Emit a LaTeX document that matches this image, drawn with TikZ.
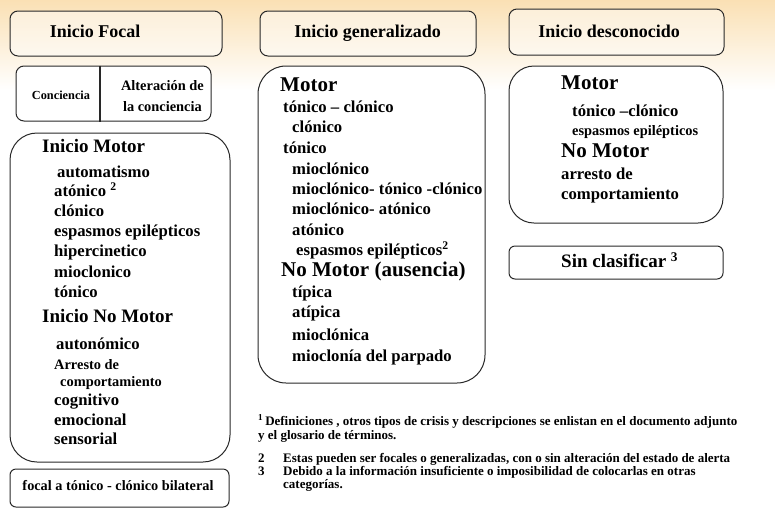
\documentclass[tikz,border=0pt]{standalone}
\usepackage{fontspec}
\setmainfont{Liberation Serif}
\definecolor{bgtop}{RGB}{250,224,180}
\definecolor{edge}{RGB}{40,40,40}
\tikzset{
  hdr/.style={draw=edge, line width=1pt, rounded corners=8pt, fill=white, fill opacity=0.45, text opacity=1, inner sep=0pt},
  bigbox/.style={draw=edge, line width=1pt, fill=white, inner sep=0pt},
  smallbox/.style={draw=edge, line width=1pt, rounded corners=6pt, fill=white, inner sep=0pt},
  txt/.style={anchor=west, inner sep=0pt, text height=0.66em, text depth=0pt, font=\bfseries\fontsize{#1}{#1}\selectfont},
  txt/.default=16.7,
  ttl/.style={inner sep=0pt, text height=0.66em, text depth=0pt, font=\bfseries\fontsize{18}{18}\selectfont},
}
\begin{document}
\begin{tikzpicture}[x=1pt,y=-1pt]
\useasboundingbox (0,0) rectangle (775,523);
\fill[white] (0,0) rectangle (775,523);
\shade[top color=bgtop, bottom color=white] (0,0) rectangle (775,90);

% headers
\node[hdr, minimum width=212pt, minimum height=45pt] (hfocal) at (116,33.5) {};
\node[ttl] (tfocal) at (95,34) {Inicio Focal};
\node[hdr, minimum width=216pt, minimum height=45pt] (hgen) at (368,33.5) {};
\node[ttl] (tgen) at (367.5,34) {Inicio generalizado};
\node[hdr, minimum width=215pt, minimum height=46pt] (hunk) at (616.5,32) {};
\node[ttl] (tunk) at (609,34) {Inicio desconocido};

% conciencia box
\node[smallbox, rounded corners=8pt, minimum width=195pt, minimum height=55pt] (cbox) at (113.5,93.5) {};
\draw[edge, line width=2pt] (cbox.north west -| 100,0) coordinate (dtop) -- (cbox.south west -| 100,0) coordinate (dbot);
\node[txt=12.3, anchor=center] (tcon) at (61,96) {Conciencia};
\node[txt=14.4, anchor=east] (talt1) at (204,87) {Alteración de};
\node[txt=14.4, anchor=east] (talt2) at (202,108) {la conciencia};

% left big box
\node[bigbox, rounded corners=27pt, minimum width=220pt, minimum height=329pt] (lbox) at (120,297.5) {};
\node[txt=19] (l1) at (42,149) {Inicio Motor};
\node[txt] (l2) at (57,174) {automatismo};
\node[txt] (l3) at (54,193) {atónico \textsuperscript{2}};
\node[txt] (l4) at (54,213) {clónico};
\node[txt] (l5) at (54,233) {espasmos epilépticos};
\node[txt] (l6) at (54,253) {hipercinetico};
\node[txt] (l7) at (54,274) {mioclonico};
\node[txt] (l8) at (54,294) {tónico};
\node[txt=19] (l9) at (42,319) {Inicio No Motor};
\node[txt] (l10) at (56,346) {autonómico};
\node[txt=14.4] (l11) at (54,366) {Arresto de};
\node[txt=14.4] (l12) at (60,383) {comportamiento};
\node[txt] (l13) at (54,402) {cognitivo};
\node[txt] (l14) at (54,422) {emocional};
\node[txt] (l15) at (54,441) {sensorial};

% bilateral box
\node[smallbox, minimum width=219pt, minimum height=38pt] (bbox) at (119.5,488) {};
\node[txt=14.3, anchor=center] (tbil) at (118,487) {focal a tónico - clónico bilateral};

% middle big box
\node[bigbox, rounded corners=28pt, minimum width=227pt, minimum height=317pt] (mbox) at (371.5,224.5) {};
\node[txt=21] (m1) at (280,88) {Motor};
\node[txt] (m2) at (283,109) {tónico – clónico};
\node[txt] (m3) at (292,129) {clónico};
\node[txt] (m4) at (283,150) {tónico};
\node[txt] (m5) at (292,171) {mioclónico};
\node[txt] (m6) at (292,191) {mioclónico- tónico -clónico};
\node[txt] (m7) at (292,211) {mioclónico- atónico};
\node[txt] (m8) at (292,232) {atónico};
\node[txt] (m9) at (296,252) {espasmos epilépticos\textsuperscript{2}};
\node[txt=21] (m10) at (281,273) {No Motor (ausencia)};
\node[txt] (m11) at (292,294) {típica};
\node[txt] (m12) at (292,314) {atípica};
\node[txt] (m13) at (292,337) {mioclónica};
\node[txt] (m14) at (292,358) {mioclonía del parpado};

% right big box
\node[bigbox, rounded corners=25pt, minimum width=214pt, minimum height=157pt] (rbox) at (616,144.5) {};
\node[txt=21] (r1) at (561,86) {Motor};
\node[txt] (r2) at (572,113) {tónico –clónico};
\node[txt=14.4] (r3) at (572,132) {espasmos epilépticos};
\node[txt=21] (r4) at (561,154) {No Motor};
\node[txt] (r5) at (561,176) {arresto de};
\node[txt] (r6) at (561,196) {comportamiento};

% sin clasificar
\node[smallbox, minimum width=214pt, minimum height=33pt] (sbox) at (616,262.5) {};
\node[txt=19] (tsin) at (561,264) {Sin clasificar \textsuperscript{3}};

% footnotes
\node[txt=13] (f1) at (258,422) {\textsuperscript{1}\hspace{2pt}Definiciones , otros tipos de crisis y descripciones se enlistan en el documento adjunto};
\node[txt=13] (f1b) at (258,436) {y el glosario de términos.};
\node[txt=13] (f2n) at (258,459) {2};
\node[txt=13] (f2) at (283,459) {Estas pueden ser focales o generalizadas, con o sin alteración del estado de alerta};
\node[txt=13] (f3n) at (258,472) {3};
\node[txt=13] (f3) at (283,472) {Debido a la información insuficiente o imposibilidad de colocarlas en otras};
\node[txt=13] (f3b) at (283,485) {categorías.};
\end{tikzpicture}
\end{document}
